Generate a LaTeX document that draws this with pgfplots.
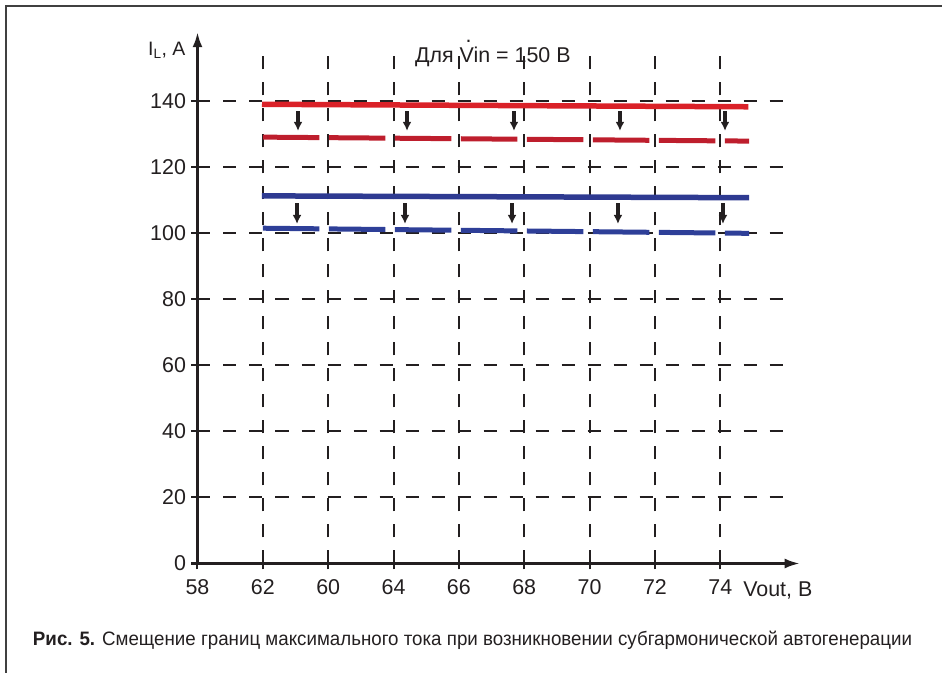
\documentclass[border=0pt]{standalone}
\usepackage{fontspec}
\setmainfont{Liberation Sans}
\usepackage{graphicx}
\usepackage{pgfplots}
\pgfplotsset{compat=1.18}
\usetikzlibrary{arrows.meta}
\definecolor{gridc}{HTML}{231F20}
\definecolor{redsolid}{HTML}{DA2128}
\definecolor{reddash}{HTML}{BE1E2D}
\definecolor{bluesolid}{HTML}{2E3A91}
\definecolor{bluedash}{HTML}{2E3F98}
\begin{document}
\begin{tikzpicture}
\useasboundingbox (-197.5bp,-109.5bp) rectangle (744.5bp,563.5bp);
\draw[line width=1.5bp, color=black!75] (-191.5bp,-109.5bp) -- (-191.5bp,557.5bp) -- (744.5bp,557.5bp);
\begin{axis}[
  anchor=origin, x=65.35bp, y=3.3bp,
  xmin=0, xmax=9, ymin=0, ymax=157.5,
  axis lines=left, clip=false,
  axis line style={line width=2.5bp, color=gridc},
  x axis line style={-{Latex[length=15bp,width=10bp]}, shorten >=-14bp},
  y axis line style={-{Latex[length=15bp,width=10bp]}, shorten >=-11.5bp},
  xtick={0,...,8}, xticklabels={58,62,60,64,66,68,70,72,74},
  ytick={0,20,...,140},
  tick align=center, major tick length=12bp,
  tick style={line width=2bp, color=gridc},
  grid=major, grid style={line width=2bp, color=gridc, dash pattern=on 13bp off 13bp},
  tick label style={font=\fontsize{21.5}{25}\selectfont, text=gridc},
  xticklabel style={yshift=-7bp},
  yticklabel style={xshift=-2bp},
  /pgf/number format/assume math mode=true,
]
\addplot[color=redsolid, line width=5.5bp] coordinates {(0.987,139.15) (8.43,138.4)};
\addplot[color=reddash, line width=5bp, dash pattern=on 56.5bp off 9.5bp] coordinates {(1.0,129.2) (8.44,128.0)};
\addplot[color=bluesolid, line width=5.5bp] coordinates {(0.985,111.4) (8.44,110.85)};
\addplot[color=bluedash, line width=5bp, dash pattern=on 56.5bp off 9.5bp] coordinates {(1.0,101.6) (8.44,100.05)};
\addplot[gridc, line width=3.2bp, -{Latex[length=9bp,width=9bp]}, quiver={u=0,v=\thisrow{v}}] table[row sep=\\] {
x y v\\
1.538 137.1 -6\\
3.206 137.1 -6\\
4.843 137.1 -6\\
6.465 137.1 -6\\
8.072 137.1 -6\\
};
\addplot[gridc, line width=3.2bp, -{Latex[length=9bp,width=9bp]}, quiver={u=0,v=\thisrow{v}}] table[row sep=\\] {
x y v\\
1.523 109.2 -6.3\\
3.175 109.2 -6.3\\
4.813 109.2 -6.3\\
6.434 109.2 -6.3\\
8.041 109.2 -6.3\\
};
\node[font=\fontsize{21.5}{25}\selectfont, text=gridc] at (axis cs:4.52,153.5) {Для \raisebox{0pt}[0pt][0pt]{\makebox[0pt][l]{\hspace{0.28em}\raisebox{0.95em}{.}}}Vin = 150 В};
\node[font=\fontsize{19.5}{23}\selectfont, text=gridc] at (axis cs:-0.47,155.4) {I\textsubscript{L}, A};
\node[font=\fontsize{21.5}{25}\selectfont, text=gridc] at (axis cs:8.88,-8.3) {Vout, B};
\end{axis}
\node[text=gridc] at (275bp,-76.5bp) {\resizebox{879bp}{\height}{\fontsize{19.5}{23}\selectfont\textbf{Рис. 5.} Смещение границ максимального тока при возникновении субгармонической автогенерации}};
\end{tikzpicture}
\end{document}
